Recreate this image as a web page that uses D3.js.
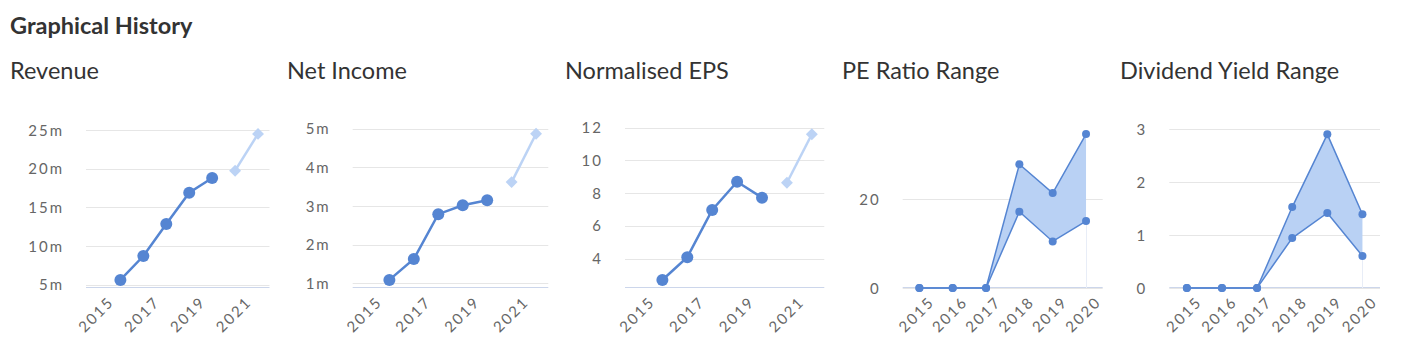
<!DOCTYPE html>
<html>
<head>
<meta charset="utf-8">
<script src="https://cdn.jsdelivr.net/npm/d3@7"></script>
<style>
  html, body { margin: 0; padding: 0; background: #ffffff; }
  svg { display: block; font-family: Lato, "Open Sans", sans-serif; }
</style>
</head>
<body>
<svg id="chart" width="1401" height="362"></svg>
<script>
// ---------- DATA ----------
const pageTitle = "Graphical History";
const chartTitles = ["Revenue", "Net Income", "Normalised EPS", "PE Ratio Range", "Dividend Yield Range"];

const historyYears = [2015, 2016, 2017, 2018, 2019];
const forecastYears = [2020, 2021];
const yearTicks = [2015, 2017, 2019, 2021];

const revenue = [5.65, 8.74, 12.87, 16.9, 18.8];          // millions
const revenueForecast = [19.75, 24.5];
const revenueTicks = [5, 10, 15, 20, 25];

const netIncome = [1.09, 1.63, 2.79, 3.02, 3.15];         // millions
const netIncomeForecast = [3.62, 4.87];
const netIncomeTicks = [1, 2, 3, 4, 5];

const eps = [2.70, 4.09, 6.97, 8.69, 7.72];
const epsForecast = [8.63, 11.59];
const epsTicks = [4, 6, 8, 10, 12];

const rangeYears = ["2015", "2016", "2017", "2018", "2019", "2020"];
const peLow  = [0, 0, 0, 17.2, 10.5, 15.1];
const peHigh = [0, 0, 0, 27.9, 21.4, 34.7];
const peTicks = [0, 20];

const divLow  = [0, 0, 0, 0.945, 1.418, 0.605];
const divHigh = [0, 0, 0, 1.53, 2.905, 1.393];
const divTicks = [0, 1, 2, 3];

// ---------- STYLE / LAYOUT ----------
const C = {
  main: "#5585d2",
  fore: "#bcd3f5",
  area: "#b9d1f4",
  grid: "#e6e6e6",
  axis: "#ccd6eb",
  tick: "#666666",
  title: "#333333"
};
const TOP = 128, BOTTOM = 288;
const TICK_FONT = 15, TICK_SPACING = 2;

const svg = d3.select("#chart");

svg.append("text")
  .attr("x", 10).attr("y", 34)
  .attr("font-size", 23.5).attr("font-weight", 700)
  .attr("fill", C.title)
  .text(pageTitle);

const layouts = [
  { tx: 10,   left: 86,    right: 269.5 },
  { tx: 287,  left: 352.7, right: 548.3 },
  { tx: 565,  left: 625,   right: 824.3 },
  { tx: 842,  left: 902.7, right: 1102.7 },
  { tx: 1120, left: 1169.3, right: 1380 }
];

function crisp(v) { return Math.round(v) + 0.5; }

function drawFrame(g, lay, title, y, ticks, fmt) {
  g.append("text")
    .attr("x", lay.tx).attr("y", 79)
    .attr("font-size", 23.5)
    .attr("fill", C.title)
    .text(title);

  const grid = g.append("g");
  ticks.forEach(t => {
    const yy = crisp(y(t));
    grid.append("line")
      .attr("x1", lay.left).attr("x2", lay.right)
      .attr("y1", yy).attr("y2", yy)
      .attr("stroke", C.grid).attr("stroke-width", 1);
    grid.append("text")
      .attr("x", lay.left - 24 + TICK_SPACING).attr("y", y(t) + 5.5)
      .attr("text-anchor", "end")
      .attr("font-size", TICK_FONT)
      .attr("letter-spacing", TICK_SPACING)
      .attr("fill", C.tick)
      .text(fmt(t));
  });
  g.append("line")
    .attr("x1", lay.left).attr("x2", lay.right)
    .attr("y1", BOTTOM - 0.5).attr("y2", BOTTOM - 0.5)
    .attr("stroke", C.axis).attr("stroke-width", 1);
}

function xLabel(g, x, text, dx) {
  const ax = x + dx, ay = BOTTOM + 15;
  g.append("text")
    .attr("transform", `translate(${ax},${ay}) rotate(-45)`)
    .attr("text-anchor", "end")
    .attr("font-size", TICK_FONT)
    .attr("letter-spacing", TICK_SPACING)
    .attr("fill", C.tick)
    .text(text);
}

function lineChart(idx, hist, fore, ticks, domain, suffix) {
  const lay = layouts[idx];
  const g = svg.append("g");
  const x = d3.scaleLinear().domain([2014, 2022]).range([lay.left, lay.right]);
  const y = d3.scaleLinear().domain(domain).range([BOTTOM, TOP]);
  drawFrame(g, lay, chartTitles[idx], y, ticks, t => t + suffix);

  yearTicks.forEach(t => xLabel(g, x(t), String(t), 6));

  const pos = (yr) => x(yr + 0.5);
  const line = d3.line().x(d => pos(d[0])).y(d => y(d[1]));

  const fd = forecastYears.map((yr, i) => [yr, fore[i]]);
  g.append("path").datum(fd)
    .attr("d", line).attr("fill", "none")
    .attr("stroke", C.fore).attr("stroke-width", 2.5);
  g.selectAll(".dia").data(fd).enter().append("path")
    .attr("d", d3.symbol().type(d3.symbolDiamond2).size(90))
    .attr("transform", d => `translate(${pos(d[0])},${y(d[1])})`)
    .attr("fill", C.fore);

  const hd = historyYears.map((yr, i) => [yr, hist[i]]);
  g.append("path").datum(hd)
    .attr("d", line).attr("fill", "none")
    .attr("stroke", C.main).attr("stroke-width", 2.5);
  g.selectAll(".dot").data(hd).enter().append("circle")
    .attr("cx", d => pos(d[0])).attr("cy", d => y(d[1]))
    .attr("r", 6).attr("fill", C.main);
}

function rangeChart(idx, low, high, ticks, domain) {
  const lay = layouts[idx];
  const g = svg.append("g");
  const x = d3.scaleBand().domain(rangeYears).range([lay.left, lay.right]).padding(0);
  const y = d3.scaleLinear().domain(domain).range([BOTTOM, TOP]);
  drawFrame(g, lay, chartTitles[idx], y, ticks, t => String(t));

  rangeYears.forEach(t => xLabel(g, x(t) + x.bandwidth() / 2, t, 16));

  const cx = d => x(d) + x.bandwidth() / 2;
  const data = rangeYears.map((yr, i) => ({ yr, lo: low[i], hi: high[i] }));
  const last = data[data.length - 1];
  g.append("line")
    .attr("x1", crisp(cx(last.yr))).attr("x2", crisp(cx(last.yr)))
    .attr("y1", y(last.lo)).attr("y2", BOTTOM)
    .attr("stroke", "#e8edf7").attr("stroke-width", 1);

  g.append("path").datum(data)
    .attr("d", d3.area().x(d => cx(d.yr)).y0(d => y(d.lo)).y1(d => y(d.hi)))
    .attr("fill", C.area);
  ["lo", "hi"].forEach(k => {
    g.append("path").datum(data)
      .attr("d", d3.line().x(d => cx(d.yr)).y(d => y(d[k])))
      .attr("fill", "none").attr("stroke", C.main).attr("stroke-width", 1.5);
    g.selectAll(".m" + k).data(data).enter().append("circle")
      .attr("cx", d => cx(d.yr)).attr("cy", d => y(d[k]))
      .attr("r", 4).attr("fill", C.main);
  });
}

lineChart(0, revenue, revenueForecast, revenueTicks, [4.61, 25.26], "m");
lineChart(1, netIncome, netIncomeForecast, netIncomeTicks, [0.88, 5.02], "m");
lineChart(2, eps, epsForecast, epsTicks, [2.21, 11.97], "");
rangeChart(3, peLow, peHigh, peTicks, [0, 36.08]);
rangeChart(4, divLow, divHigh, divTicks, [0, 3.025]);
</script>
</body>
</html>
